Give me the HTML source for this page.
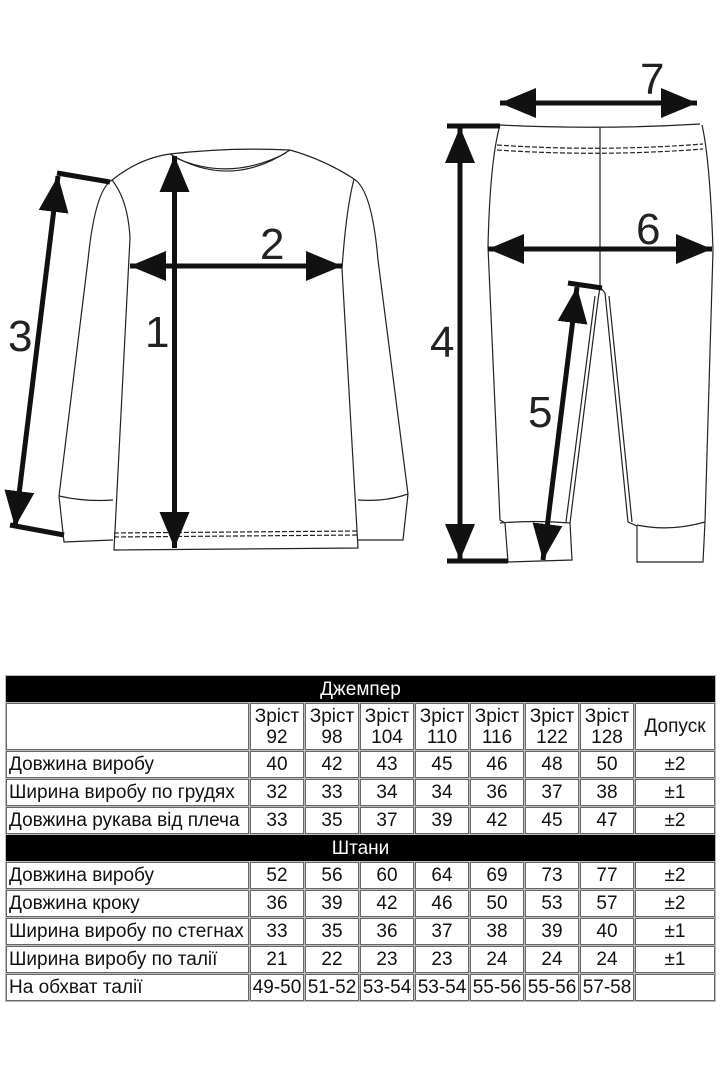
<!DOCTYPE html>
<html><head><meta charset="utf-8">
<style>
html,body{margin:0;padding:0;background:#fff;width:720px;height:1080px;overflow:hidden;position:relative}
svg{position:absolute;left:0;top:0}
table{position:absolute;left:5px;top:675px;width:711px;border-collapse:separate;border-spacing:1px;background:#bbb;font-family:"Liberation Sans Narrow","Liberation Sans",sans-serif;font-size:19px;color:#111;table-layout:fixed}
td{background:#fff;border:1px solid #666;padding:0;height:25px;text-align:center;line-height:21px;white-space:nowrap;overflow:hidden}
td.l{text-align:left;padding-left:2px}
tr.h td{background:#000;color:#fff;border-color:#000;height:24px}
tr.z td{height:45px;line-height:21px}
</style></head><body>
<svg width="720" height="660" viewBox="0 0 720 660">
<defs>
<marker id="a" markerUnits="userSpaceOnUse" markerWidth="40" markerHeight="32" refX="36" refY="15" orient="auto-start-reverse" viewBox="0 0 40 30">
<path d="M0,0 L36,15 L0,30 Z" fill="#111"/></marker>
</defs>
<g fill="none" stroke="#222" stroke-width="1.2">
<path d="M112,180 Q140,158 170,154 Q230,147 290,150 Q325,160 354,179"/>
<path d="M170,154 Q230,190 290,150"/>
<path d="M176,158 Q230,182 286,153"/>
<path d="M112,180 Q128,200 130,238 L114,550 L358,548 L342,269 Q346,210 354,179"/>
<path d="M112,180 Q95,190 88,260 L59,496 L64,542 L113,540"/>
<path d="M59,496 Q85,502 113,500"/>
<path d="M354,179 Q372,190 378,260 L408,494 L403,540 L358,540"/>
<path d="M358,500 Q385,502 408,494"/>
<path d="M114,533 L358,531 M114,537 L358,535" stroke-dasharray="5,2"/>
<path d="M500,125 Q600,130 700,124"/>
<path d="M500,125 Q490,160 488,247 L500,520 L505,523 L508,562 L572,560 L570,523 L598,300 L600,287 L600,127"/>
<path d="M600,287 L605,293 L628,522 L637,526 L637,562 L703,562 L705,522 L713,250 Q710,160 702,125"/>
<path d="M595,296 L566,522 M609,296 L632,522"/>
<path d="M500,523 Q535,520 570,523 M637,525 Q670,532 705,522"/>
<path d="M497,145 Q600,152 703,144 M497,150 Q600,157 703,149" stroke-dasharray="5,2"/>
</g>
<g stroke="#111" stroke-width="5" fill="none">
<line x1="174.5" y1="156" x2="174.5" y2="548" marker-start="url(#a)" marker-end="url(#a)"/>
<line x1="130" y1="266" x2="342" y2="266" marker-start="url(#a)" marker-end="url(#a)"/>
<line x1="58" y1="176" x2="15" y2="527" marker-start="url(#a)" marker-end="url(#a)"/>
<line x1="57" y1="173" x2="110" y2="182"/>
<line x1="10" y1="525" x2="64" y2="535"/>
<line x1="500" y1="103" x2="697" y2="103" marker-start="url(#a)" marker-end="url(#a)"/>
<line x1="488" y1="249" x2="712" y2="249" marker-start="url(#a)" marker-end="url(#a)"/>
<line x1="460" y1="127" x2="460" y2="560" marker-start="url(#a)" marker-end="url(#a)"/>
<line x1="447" y1="126" x2="500" y2="126"/>
<line x1="447" y1="561" x2="508" y2="561"/>
<line x1="577" y1="287" x2="543" y2="560" marker-start="url(#a)" marker-end="url(#a)"/>
<line x1="568" y1="283" x2="602" y2="288"/>
</g>
<g font-family="Liberation Sans, sans-serif" font-size="44" fill="#222">
<text x="260" y="259">2</text>
<text x="145" y="347">1</text>
<text x="8" y="351">3</text>
<text x="640" y="94">7</text>
<text x="636" y="244">6</text>
<text x="430" y="357">4</text>
<text x="528" y="427">5</text>
</g>
</svg>
<table>
<colgroup><col style="width:243px"><col style="width:54px"><col style="width:54px"><col style="width:54px"><col style="width:54px"><col style="width:54px"><col style="width:54px"><col style="width:54px"><col></colgroup>
<tr class="h"><td colspan="9">Джемпер</td></tr>
<tr class="z"><td></td><td>Зріст<br>92</td><td>Зріст<br>98</td><td>Зріст<br>104</td><td>Зріст<br>110</td><td>Зріст<br>116</td><td>Зріст<br>122</td><td>Зріст<br>128</td><td>Допуск</td></tr>
<tr><td class="l">Довжина виробу</td><td>40</td><td>42</td><td>43</td><td>45</td><td>46</td><td>48</td><td>50</td><td>±2</td></tr>
<tr><td class="l">Ширина виробу по грудях</td><td>32</td><td>33</td><td>34</td><td>34</td><td>36</td><td>37</td><td>38</td><td>±1</td></tr>
<tr><td class="l">Довжина рукава від плеча</td><td>33</td><td>35</td><td>37</td><td>39</td><td>42</td><td>45</td><td>47</td><td>±2</td></tr>
<tr class="h"><td colspan="9">Штани</td></tr>
<tr><td class="l">Довжина виробу</td><td>52</td><td>56</td><td>60</td><td>64</td><td>69</td><td>73</td><td>77</td><td>±2</td></tr>
<tr><td class="l">Довжина кроку</td><td>36</td><td>39</td><td>42</td><td>46</td><td>50</td><td>53</td><td>57</td><td>±2</td></tr>
<tr><td class="l">Ширина виробу по стегнах</td><td>33</td><td>35</td><td>36</td><td>37</td><td>38</td><td>39</td><td>40</td><td>±1</td></tr>
<tr><td class="l">Ширина виробу по талії</td><td>21</td><td>22</td><td>23</td><td>23</td><td>24</td><td>24</td><td>24</td><td>±1</td></tr>
<tr><td class="l">На обхват талії</td><td>49-50</td><td>51-52</td><td>53-54</td><td>53-54</td><td>55-56</td><td>55-56</td><td>57-58</td><td></td></tr>
</table>
</body></html>
